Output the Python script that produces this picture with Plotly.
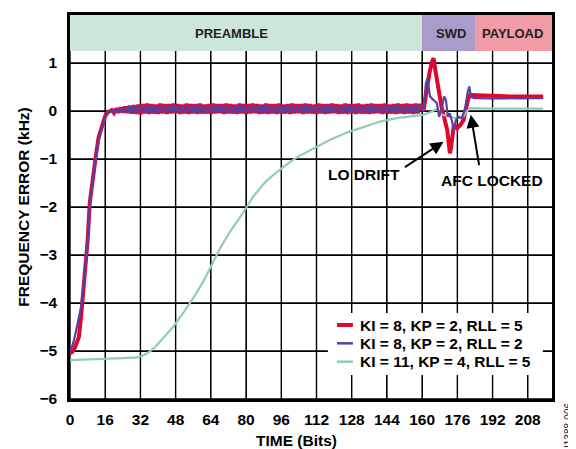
import plotly.graph_objects as go

# ---------------- data ----------------
# KI = 8, KP = 2, RLL = 5  (red)
red_pre_y = [
    -5.05, -5.02, -4.95, -4.85, -4.72, -4.30, -3.75, -3.30, -2.70, -1.90,
    -1.50, -1.10, -0.85, -0.55, -0.38, -0.22, -0.10, -0.03, 0.00,
    0.02, -0.04, 0.05, -0.03, 0.07, -0.03, 0.09, -0.04, 0.11, -0.05, 0.12, -0.06, 0.13, -0.07,
    0.14, -0.05, 0.15, -0.06, 0.14, -0.05, 0.13, -0.06, 0.15, -0.05, 0.14, -0.06, 0.14, -0.05, 0.15, -0.04, 0.14, -0.06, 0.13, -0.05,
    0.15, -0.06, 0.14, -0.05, 0.14, -0.06, 0.15, -0.05, 0.13, -0.05, 0.14, -0.06, 0.15, -0.05, 0.14, -0.04, 0.14, -0.06, 0.15, -0.05,
    0.14, -0.05, 0.13, -0.06, 0.15, -0.05, 0.14, -0.06, 0.14, -0.05, 0.15, -0.04, 0.14, -0.06, 0.13, -0.05, 0.15, -0.06, 0.14, -0.05,
    0.14, -0.06, 0.15, -0.05, 0.13, -0.05, 0.14, -0.06, 0.15, -0.05, 0.14, -0.04, 0.14, -0.06, 0.15, -0.05, 0.14, -0.05, 0.13, -0.06,
    0.15, -0.05, 0.14, -0.06, 0.14, -0.05, 0.15, -0.04, 0.14, -0.06, 0.13, -0.05, 0.15, -0.06, 0.14, -0.05, 0.14, -0.06, 0.15, -0.05,
    0.13, -0.05, 0.14, -0.06, 0.15, -0.05, 0.14, -0.04, 0.14, -0.06, 0.15, -0.05, 0.13, -0.05, 0.14, -0.06, 0.15, -0.05, 0.14, -0.06,
    0.15, -0.05, 0.14, -0.06, 0.15, -0.05, 0.14,
]
red_post_t = [160.6, 162.2, 163.3, 164.5, 165.2, 166.0, 167.3, 168.8, 170.3, 171.4,
              172.1, 172.6, 173.1, 173.7, 174.4, 175.9, 177.4, 178.8, 179.6, 180.8,
              181.8, 183.3, 186, 190, 195, 200, 205, 210, 215]
red_post_y = [0.00, 0.51, 0.79, 1.03, 1.10, 0.85, 0.44, 0.09, -0.19, -0.40,
              -0.67, -0.88, -0.78, -0.46, -0.29, -0.36, -0.29, -0.19, 0.02, 0.23,
              0.33, 0.33, 0.32, 0.31, 0.31, 0.30, 0.31, 0.30, 0.30]

# KI = 8, KP = 2, RLL = 2  (purple)
pur_pre_y = [
    -5.00, -4.90, -4.74, -4.50, -4.30, -4.10, -3.70, -3.25, -2.70, -1.95,
    -1.55, -1.15, -0.88, -0.62, -0.42, -0.27, -0.14, -0.06, -0.02,
    0.02, -0.03, 0.04, -0.02, 0.06, -0.03, 0.08, -0.03, 0.10, -0.04, 0.11, -0.04, 0.12, -0.03,
    0.12, -0.03, 0.13, -0.04, 0.12, -0.03, 0.11, -0.04, 0.13, -0.03, 0.12, -0.04, 0.12, -0.03, 0.13, -0.02, 0.12, -0.04, 0.11, -0.03,
    0.13, -0.04, 0.12, -0.03, 0.12, -0.04, 0.13, -0.03, 0.11, -0.03, 0.12, -0.04, 0.13, -0.03, 0.12, -0.02, 0.12, -0.04, 0.13, -0.03,
    0.12, -0.03, 0.11, -0.04, 0.13, -0.03, 0.12, -0.04, 0.12, -0.03, 0.13, -0.02, 0.12, -0.04, 0.11, -0.03, 0.13, -0.04, 0.12, -0.03,
    0.12, -0.04, 0.13, -0.03, 0.11, -0.03, 0.12, -0.04, 0.13, -0.03, 0.12, -0.02, 0.12, -0.04, 0.13, -0.03, 0.12, -0.03, 0.11, -0.04,
    0.13, -0.03, 0.12, -0.04, 0.12, -0.03, 0.13, -0.02, 0.12, -0.04, 0.11, -0.03, 0.13, -0.04, 0.12, -0.03, 0.12, -0.04, 0.13, -0.03,
    0.11, -0.03, 0.12, -0.04, 0.13, -0.03, 0.12, -0.02, 0.12, -0.04, 0.13, -0.03, 0.11, -0.03, 0.12, -0.04, 0.13, -0.03, 0.12, -0.04,
    0.13, -0.03, 0.12, -0.04, 0.13, -0.03, 0.12,
]
pur_post_t = [160.6, 161.7, 162.4, 163.6, 165.2, 166.7, 167.7, 168.9, 170.0, 170.8,
              171.7, 172.5, 173.6, 174.5, 175.3, 176.5, 178.0, 179.6, 180.6, 181.4,
              182.2, 183.4, 186, 190, 195, 200, 205, 210, 215]
pur_post_y = [0.02, 0.58, 0.68, 0.30, 0.23, 0.16, -0.12, 0.06, 0.30, 0.23,
              -0.12, -0.05, -0.22, -0.40, -0.19, -0.12, -0.15, 0.06, 0.37, 0.51,
              0.30, 0.27, 0.27, 0.26, 0.27, 0.26, 0.26, 0.27, 0.27]

# KI = 11, KP = 4, RLL = 5  (green)
grn_t = [0, 8, 16, 24, 30, 33, 36.4, 39, 41, 44, 47, 51.5, 56, 60.6, 63.6, 68.2,
         72.7, 76.5, 80.3, 83.3, 86.5, 89.4, 93, 96.5, 100, 104.5, 110.6, 118.2,
         125.8, 133.3, 140.9, 148.5, 156, 160.6, 164.5, 166, 167.6, 169, 172.1,
         175.2, 177.4, 178.9, 180.3, 181.8, 190, 200, 215]
grn_y = [-5.19, -5.18, -5.17, -5.16, -5.14, -5.10, -5.01, -4.90, -4.80, -4.65,
         -4.49, -4.20, -3.90, -3.55, -3.28, -2.86, -2.51, -2.27, -2.00, -1.78,
         -1.60, -1.45, -1.31, -1.18, -1.06, -0.93, -0.78, -0.60, -0.45, -0.33,
         -0.22, -0.15, -0.10, -0.08, -0.01, 0.03, 0.02, -0.08, -0.11, -0.15,
         -0.15, -0.11, -0.01, 0.06, 0.05, 0.05, 0.05]

series_names = ["KI = 8, KP = 2, RLL = 5", "KI = 8, KP = 2, RLL = 2", "KI = 11, KP = 4, RLL = 5"]
x_ticks = [0, 16, 32, 48, 64, 80, 96, 112, 128, 144, 160, 176, 192, 208]
y_ticks = [-6, -5, -4, -3, -2, -1, 0, 1, 2]
phases = ["PREAMBLE", "SWD", "PAYLOAD"]
phase_start = [0, 160, 184]
phase_end = [160, 184, 219]
phase_label_x = [73.5, 172.9, 201]
band_bottom = 1.24
band_top = 2.0
x_range = [0, 219]
y_range = [-6, 2]

red_t = list(range(len(red_pre_y))) + red_post_t
red_y = red_pre_y + red_post_y
pur_t = list(range(len(pur_pre_y))) + pur_post_t
pur_y = pur_pre_y + pur_post_y

# ---------------- styles ----------------
RED = "#E1062E"
PURPLE = "#5B3FA0"
GREEN = "#8FCDB4"
series_colors = [RED, PURPLE, GREEN]
series_widths = [4, 2.5, 2.5]
phase_colors = ["#CDE6DA", "#AA9BCD", "#F09BA6"]
FONT = "Liberation Sans, Arial, Helvetica, sans-serif"
GRID_W = 1.4

fig = go.Figure()

# grid drawn as background lines at the tick positions
for xv in x_ticks:
    fig.add_shape(type="line", xref="x", yref="y", x0=xv, x1=xv, y0=y_range[0], y1=y_range[1],
                  line=dict(color="black", width=GRID_W), layer="below")
for yv in y_ticks:
    fig.add_shape(type="line", xref="x", yref="y", x0=x_range[0], x1=x_range[1], y0=yv, y1=yv,
                  line=dict(color="black", width=GRID_W), layer="below")

# phase band (drawn as bars so it sits over the grid)
fig.add_trace(go.Bar(
    x=[(a + b) / 2 for a, b in zip(phase_start, phase_end)],
    width=[b - a for a, b in zip(phase_start, phase_end)],
    y=[band_top - band_bottom] * len(phases),
    base=[band_bottom] * len(phases),
    marker=dict(color=phase_colors, line=dict(width=0)),
    showlegend=False, hoverinfo="skip",
))

fig.add_trace(go.Scatter(x=red_t, y=red_y, mode="lines", name=series_names[0],
                         line=dict(color=RED, width=series_widths[0]), showlegend=False))
fig.add_trace(go.Scatter(x=grn_t, y=grn_y, mode="lines", name=series_names[2],
                         line=dict(color=GREEN, width=2.2), showlegend=False))
fig.add_trace(go.Scatter(x=pur_t, y=pur_y, mode="lines", name=series_names[1],
                         line=dict(color=PURPLE, width=2.2), showlegend=False))

for name, lx in zip(phases, phase_label_x):
    fig.add_annotation(x=lx, y=1.61, xref="x", yref="y", text=name, showarrow=False,
                       font=dict(family=FONT, size=13, color="#222", weight="bold"))

# legend (white box, sample lines, labels)
fig.add_shape(type="rect", xref="paper", yref="paper", x0=0.535, x1=0.981, y0=0.0625, y1=0.224,
              fillcolor="white", line=dict(width=0), layer="above")
legend_rows = [0.1927, 0.145, 0.0971]
for nm, col, w, ry in zip(series_names, series_colors, series_widths, legend_rows):
    fig.add_shape(type="line", xref="paper", yref="paper", x0=0.554, x1=0.587, y0=ry, y1=ry,
                  line=dict(color=col, width=w), layer="above")
    fig.add_annotation(x=0.5975, y=ry, xref="paper", yref="paper", text=nm, showarrow=False,
                       xanchor="left", yanchor="middle",
                       font=dict(family=FONT, size=15.5, color="black", weight="bold"))

# callouts
fig.add_annotation(x=133.5, y=-1.33, xref="x", yref="y", text="LO DRIFT", showarrow=False,
                   font=dict(family=FONT, size=15.5, color="black", weight="bold"))
fig.add_annotation(x=169.7, y=-0.64, ax=151.5, ay=-1.19, xref="x", yref="y", axref="x", ayref="y",
                   text="", showarrow=True, arrowhead=2, arrowsize=1.3, arrowwidth=2,
                   arrowcolor="black", standoff=0)
fig.add_annotation(x=191.6, y=-1.44, xref="x", yref="y", text="AFC LOCKED", showarrow=False,
                   font=dict(family=FONT, size=15.5, color="black", weight="bold"))
fig.add_annotation(x=182.1, y=-0.08, ax=186, ay=-1.16, xref="x", yref="y", axref="x", ayref="y",
                   text="", showarrow=True, arrowhead=2, arrowsize=1.3, arrowwidth=2,
                   arrowcolor="black", standoff=0)

# axis titles
fig.add_annotation(x=0.469, y=-0.109, xref="paper", yref="paper", text="TIME (Bits)",
                   showarrow=False, yanchor="middle",
                   font=dict(family=FONT, size=15.5, color="black", weight="bold"))
fig.add_annotation(x=-0.098, y=0.5, xref="paper", yref="paper", text="FREQUENCY ERROR (kHz)",
                   showarrow=False, textangle=-90, xanchor="center", yanchor="middle",
                   font=dict(family=FONT, size=15.5, color="black", weight="bold"))
fig.add_annotation(x=1.033, y=-0.068, xref="paper", yref="paper", text="I1388-006",
                   showarrow=False, textangle=-90, xanchor="center", yanchor="middle",
                   font=dict(family=FONT, size=10, color="#222"))

axis_common = dict(showgrid=True, gridcolor="#000000", gridwidth=GRID_W, zeroline=False,
                   showline=True, linecolor="black", linewidth=2.5, mirror=True,
                   ticks="outside", tickcolor="rgba(0,0,0,0)",
                   tickfont=dict(family=FONT, size=15.5, color="black", weight="bold"))
fig.update_xaxes(range=x_range, tickmode="array", tickvals=x_ticks, ticklen=5, **axis_common)
fig.update_yaxes(range=y_range, tickmode="array", tickvals=y_ticks, ticklen=7, **axis_common)

# page body has an 8px margin, so the figure is 8px smaller and margins shifted
fig.update_layout(
    template="none",
    width=568, height=441,
    margin=dict(l=62, r=24, t=7, b=50, autoexpand=False),
    paper_bgcolor="white", plot_bgcolor="white",
    showlegend=False, bargap=0,
    font=dict(family=FONT),
)

fig.write_html("out.html")
